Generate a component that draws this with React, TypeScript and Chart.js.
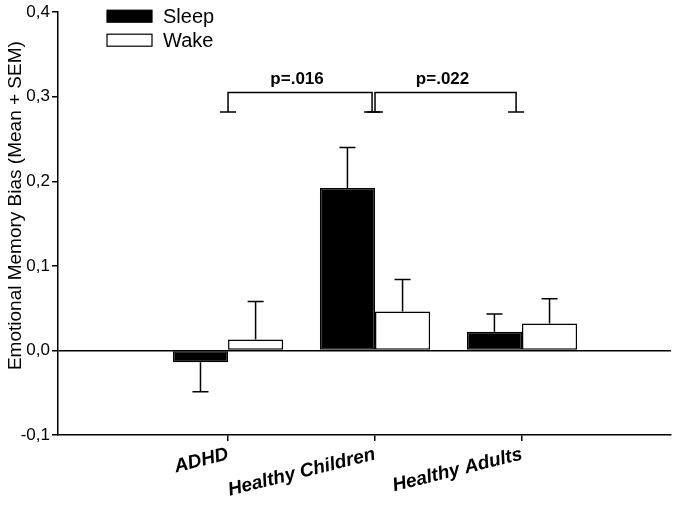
import React, { useEffect, useRef } from 'react';
import { Chart, registerables } from 'chart.js';

Chart.register(...registerables);

const categories = ['ADHD', 'Healthy Children', 'Healthy Adults'];
const categoryPositions = [1, 2, 3];
const sleepValues = [-0.014, 0.192, 0.022];
const sleepErrors = [0.035, 0.048, 0.021];
const wakeValues = [0.013, 0.046, 0.032];
const wakeErrors = [0.045, 0.038, 0.029];
const yTicks = [-0.1, 0, 0.1, 0.2, 0.3, 0.4];
const bracketStarts = [1, 2];
const bracketEnds = [1.98, 2.96];
const bracketLabels = ['p=.016', 'p=.022'];
const bracketTop = 0.305;
const bracketFoot = 0.282;
const yTitle = 'Emotional Memory Bias (Mean + SEM)';

const FONT = '"Liberation Sans", Arial, Helvetica, sans-serif';

const overlayPlugin = {
  id: 'overlay',
  afterDatasetsDraw(chart: any) {
    const ctx = chart.ctx;
    const x = chart.scales.x;
    const y = chart.scales.y;
    const area = chart.chartArea;
    ctx.save();
    ctx.strokeStyle = '#000';
    ctx.fillStyle = '#000';
    ctx.lineWidth = 1.5;
    // error bars
    chart.data.datasets.forEach((ds: any, di: number) => {
      const meta = chart.getDatasetMeta(di);
      meta.data.forEach((el: any, i: number) => {
        const v = ds.data[i].y;
        const e = ds.errors[i];
        const end = v >= 0 ? v + e : v - e;
        const py = y.getPixelForValue(end);
        ctx.beginPath();
        ctx.moveTo(el.x, el.y);
        ctx.lineTo(el.x, py);
        ctx.moveTo(el.x - 8, py);
        ctx.lineTo(el.x + 8, py);
        ctx.stroke();
      });
    });
    // brackets
    bracketStarts.forEach((s, i) => {
      const x1 = x.getPixelForValue(s);
      const x2 = x.getPixelForValue(bracketEnds[i]);
      const yt = y.getPixelForValue(bracketTop);
      const yf = y.getPixelForValue(bracketFoot);
      ctx.beginPath();
      ctx.moveTo(x1, yf);
      ctx.lineTo(x1, yt);
      ctx.lineTo(x2, yt);
      ctx.lineTo(x2, yf);
      ctx.moveTo(x1 - 8, yf);
      ctx.lineTo(x1 + 8, yf);
      ctx.moveTo(x2 - 8, yf);
      ctx.lineTo(x2 + 8, yf);
      ctx.stroke();
      ctx.font = 'bold 17px ' + FONT;
      ctx.textAlign = 'center';
      ctx.textBaseline = 'alphabetic';
      ctx.fillText(bracketLabels[i], (x1 + x2) / 2 - 3, yt - 9);
    });
    // legend
    const lx = area.left + 49;
    const ly = area.top - 2;
    chart.data.datasets.forEach((ds: any, di: number) => {
      const by = ly + di * 24;
      ctx.fillStyle = ds.backgroundColor;
      ctx.fillRect(lx, by, 45, 12);
      ctx.strokeStyle = '#000';
      ctx.lineWidth = 1.2;
      ctx.strokeRect(lx, by, 45, 12);
      ctx.fillStyle = '#000';
      ctx.font = '20px ' + FONT;
      ctx.textAlign = 'left';
      ctx.textBaseline = 'middle';
      ctx.fillText(ds.label, lx + 56, by + 7);
    });
    // y title
    ctx.translate(16, (area.top + area.bottom) / 2 - 18);
    ctx.rotate(-Math.PI / 2);
    ctx.font = '19px ' + FONT;
    ctx.textAlign = 'center';
    ctx.textBaseline = 'middle';
    ctx.fillText(yTitle, 0, 0);
    ctx.restore();
  },
};

export default function App() {
  const ref = useRef<HTMLCanvasElement | null>(null);
  useEffect(() => {
    if (!ref.current) return;
    const mk = (vals: number[]) => vals.map((v, i) => ({ x: categoryPositions[i], y: v }));
    const chart = new Chart(ref.current, {
      type: 'bar',
      data: {
        datasets: [
          {
            label: 'Sleep',
            data: mk(sleepValues),
            backgroundColor: '#000',
            borderColor: '#000',
            borderWidth: 1.5,
            borderSkipped: false,
            categoryPercentage: 0.75,
            barPercentage: 1,
            errors: sleepErrors,
          } as any,
          {
            label: 'Wake',
            data: mk(wakeValues),
            backgroundColor: '#fff',
            borderColor: '#000',
            borderWidth: 1.5,
            borderSkipped: false,
            categoryPercentage: 0.75,
            barPercentage: 1,
            errors: wakeErrors,
          } as any,
        ],
      },
      options: {
        responsive: false,
        animation: false,
        layout: { padding: { top: 10, right: 4, left: 0, bottom: 0 } },
        plugins: { legend: { display: false }, tooltip: { enabled: false } },
        scales: {
          x: {
            type: 'linear',
            min: -0.157,
            max: 4.014,
            offset: false,
            afterBuildTicks: (s: any) => {
              s.ticks = categoryPositions.map((v) => ({ value: v }));
            },
            afterFit: (s: any) => {
              s.height = 70;
            },
            grid: { drawOnChartArea: false, offset: false, tickColor: '#000', tickLength: 6, lineWidth: 1.5 },
            border: { color: '#000', width: 1.5 },
            ticks: {
              minRotation: 14,
              maxRotation: 14,
              autoSkip: false,
              color: '#000',
              padding: 2,
              font: { family: FONT, size: 19, weight: 'bold', style: 'italic' },
              callback: (v: any) => {
                const i = categoryPositions.indexOf(Number(v));
                return i >= 0 ? categories[i] : '';
              },
            },
          },
          y: {
            min: -0.1,
            max: 0.4,
            afterBuildTicks: (s: any) => {
              s.ticks = yTicks.map((v) => ({ value: v }));
            },
            afterFit: (s: any) => {
              s.width = 58;
            },
            grid: {
              color: (c: any) => (c.tick && Math.abs(c.tick.value) < 1e-9 ? '#000' : 'rgba(0,0,0,0)'),
              lineWidth: 1.5,
              tickColor: '#000',
              tickLength: 6,
            },
            border: { color: '#000', width: 1.5 },
            ticks: {
              color: '#000',
              padding: 2,
              font: { family: FONT, size: 17 },
              callback: (v: any) => Number(v).toFixed(1).replace('.', ','),
            },
          },
        },
      } as any,
      plugins: [overlayPlugin],
    });
    return () => chart.destroy();
  }, []);
  return (
    <div style={{ position: 'fixed', left: 0, top: 0, width: 675, height: 505, background: '#fff' }}>
      <canvas ref={ref} width={675} height={505} />
    </div>
  );
}
